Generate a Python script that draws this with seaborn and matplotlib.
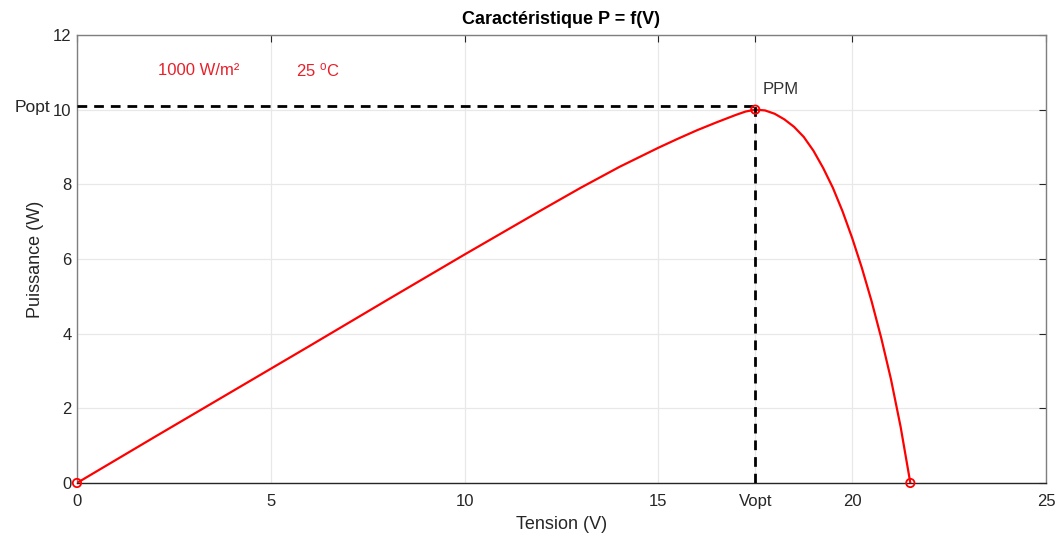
import matplotlib
matplotlib.use("Agg")
import matplotlib.pyplot as plt
import seaborn as sns
import pandas as pd

# Photovoltaic P-V characteristic (1000 W/m², 25 °C)
tension = [0, 2, 4, 6, 8, 10, 12, 13, 14, 15, 15.5, 16, 16.5, 17, 17.25,
           17.5, 17.75, 18, 18.25, 18.5, 18.75, 19, 19.25, 19.5, 19.75, 20,
           20.25, 20.5, 20.75, 21, 21.25, 21.5]
puissance = [0, 1.23, 2.45, 3.67, 4.90, 6.12, 7.32, 7.91, 8.47, 8.98, 9.22,
             9.45, 9.66, 9.86, 9.95, 10.0, 9.98, 9.89, 9.74, 9.54, 9.27,
             8.90, 8.44, 7.91, 7.28, 6.56, 5.76, 4.87, 3.88, 2.78, 1.50, 0]

# Key points: short circuit, maximum power point, open circuit
points_v = [0, 17.5, 21.5]
points_p = [0, 10.0, 0]

Vopt = 17.5
Popt = 10.1

x_ticks = [0, 5, 10, 15, 20, 25]
y_ticks = [0, 2, 4, 6, 8, 10, 12]

sns.set_theme(style="whitegrid")
plt.rcParams["font.family"] = ["Liberation Sans", "DejaVu Sans"]

fig = plt.figure(figsize=(10.6, 5.36), dpi=100)
ax = fig.add_axes([0.0726, 0.0989, 0.9142, 0.8358])

text_col = "#262626"

df = pd.DataFrame({"V": tension, "P": puissance})
sns.lineplot(data=df, x="V", y="P", sort=False, color="red", linewidth=1.6,
             ax=ax, zorder=3)

# Dashed guides to the maximum power point
ax.plot([0, Vopt], [Popt, Popt], color="black", linestyle=(0, (3.5, 2.5)),
        linewidth=2.0, zorder=4)
ax.plot([Vopt, Vopt], [0, Popt], color="black", linestyle=(0, (3.5, 2.5)),
        linewidth=2.0, zorder=4)

pts = pd.DataFrame({"V": points_v, "P": points_p})
sns.scatterplot(data=pts, x="V", y="P", marker="o", s=36,
                facecolors="none", edgecolor="red", linewidth=1.3,
                ax=ax, zorder=5, clip_on=False)

ax.set_xlim(0, 25)
ax.set_ylim(0, 12)

ax.set_xticks(x_ticks + [Vopt])
ax.set_xticklabels([str(t) for t in x_ticks] + ["Vopt"])
ax.set_yticks(y_ticks)
ax.set_yticklabels([str(t) for t in y_ticks])
ax.set_yticks([Popt], ["Popt"], minor=True)

ax.grid(True, which="major", color="#e8e8e8", linewidth=0.9)
ax.grid(False, which="minor")
ax.set_facecolor("white")
for s in ax.spines.values():
    s.set_visible(True)
    s.set_color("#7f7f7f")
    s.set_linewidth(1.0)
ax.spines["bottom"].set_color("#262626")

ax.tick_params(axis="both", which="major", direction="in", length=5,
               width=0.8, colors=text_col, labelsize=12,
               top=True, right=True)
ax.tick_params(axis="x", which="major", pad=8)
ax.tick_params(axis="y", which="major", pad=4)
ax.tick_params(axis="y", which="minor", length=0, pad=19, labelsize=12.5,
               labelcolor=text_col, left=True)

ax.set_xlabel("Tension (V)", fontsize=13, color=text_col, labelpad=5)
ax.set_ylabel("Puissance (W)", fontsize=13, color=text_col)
ax.yaxis.set_label_coords(-0.034, 0.5)
ax.set_title("Caractéristique P = f(V)", fontsize=13, fontweight="bold",
             color="black", pad=8)

ax.text(2.1, 11.05, "1000 W/m²", color="#e8202a", fontsize=12,
        va="center", ha="left")
ax.text(5.65, 11.05, r"25 $\mathregular{^{o}}$C", color="#e8202a",
        fontsize=12, va="center", ha="left")
ax.text(17.68, 10.53, "PPM", color="#333333", fontsize=12,
        va="center", ha="left")

fig.savefig("out.png", dpi=100)
